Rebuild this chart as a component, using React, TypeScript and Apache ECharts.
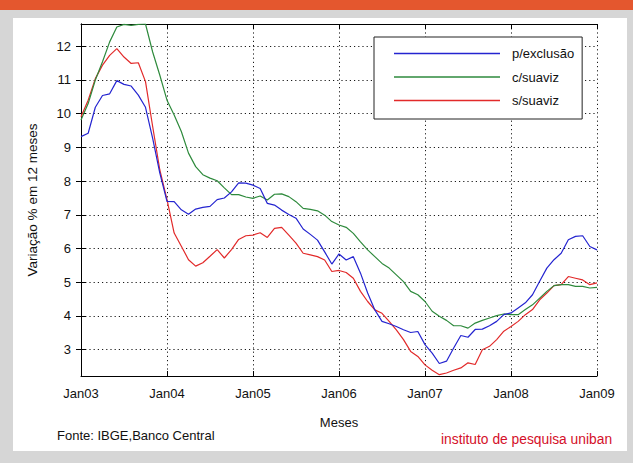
import React, { useEffect, useRef } from "react";
import * as echarts from "echarts";

const yearLabels = ["Jan03", "Jan04", "Jan05", "Jan06", "Jan07", "Jan08", "Jan09"];
const yTicks = [3, 4, 5, 6, 7, 8, 9, 10, 11, 12];
const seriesNames = ["p/exclusão", "c/suaviz", "s/suaviz"];

// monthly values, Jan 2003 .. Jan 2009
const pExclusao = [
  9.32, 9.42, 10.19, 10.54, 10.59, 10.98, 10.87, 10.82, 10.55, 10.19, 9.27, 8.24,
  7.40, 7.39, 7.15, 7.02, 7.17, 7.22, 7.25, 7.45, 7.50, 7.68, 7.95, 7.94,
  7.88, 7.78, 7.34, 7.29, 7.14, 7.01, 6.90, 6.58, 6.42, 6.25, 5.90, 5.54,
  5.84, 5.66, 5.76, 5.27, 4.68, 4.18, 3.84, 3.77, 3.69, 3.59, 3.51, 3.54,
  3.15, 2.90, 2.59, 2.66, 3.05, 3.42, 3.37, 3.60, 3.61, 3.71, 3.84, 4.04,
  4.09, 4.24, 4.39, 4.63, 5.03, 5.42, 5.67, 5.86, 6.26, 6.36, 6.38, 6.06,
  5.96,
];
const cSuaviz = [
  9.81, 10.30, 11.00, 11.54, 12.13, 12.57, 12.65, 12.62, 12.65, 12.66, 11.83, 11.14,
  10.40, 9.96, 9.47, 8.83, 8.43, 8.19, 8.09, 8.01, 7.80, 7.60, 7.60, 7.53,
  7.49, 7.56, 7.44, 7.61, 7.62, 7.54, 7.39, 7.19, 7.16, 7.12, 6.99, 6.80,
  6.70, 6.63, 6.45, 6.20, 5.96, 5.76, 5.56, 5.42, 5.22, 5.02, 4.73, 4.63,
  4.43, 4.14, 3.99, 3.87, 3.71, 3.71, 3.64, 3.79, 3.87, 3.94, 4.01, 4.06,
  4.04, 4.04, 4.19, 4.33, 4.53, 4.73, 4.90, 4.93, 4.93, 4.88, 4.88, 4.83,
  4.85,
];
const sSuaviz = [
  9.91, 10.40, 11.04, 11.44, 11.73, 11.93, 11.68, 11.49, 11.51, 10.95, 9.62, 8.33,
  7.45, 6.46, 6.07, 5.67, 5.48, 5.58, 5.77, 5.97, 5.72, 5.97, 6.27, 6.38,
  6.40, 6.47, 6.33, 6.60, 6.63, 6.40, 6.16, 5.86, 5.81, 5.76, 5.66, 5.32,
  5.35, 5.29, 5.12, 4.73, 4.43, 4.18, 4.08, 3.84, 3.59, 3.30, 2.95, 2.80,
  2.55, 2.39, 2.26, 2.31, 2.39, 2.46, 2.61, 2.56, 3.00, 3.10, 3.30, 3.55,
  3.69, 3.84, 4.04, 4.19, 4.48, 4.68, 4.90, 4.93, 5.17, 5.12, 5.07, 4.93,
  4.98,
];
const seriesColors = ["#2424d0", "#2e8a3c", "#e22a2a"];

const FONT = "'Liberation Sans', Arial, sans-serif";

export default function App() {
  const ref = useRef<HTMLDivElement>(null);
  useEffect(() => {
    document.body.style.margin = "0";
    const chart = echarts.init(ref.current!, null, { renderer: "svg" });
    const toPairs = (arr: number[]) => arr.map((v, i) => [i, v]);
    const yMin = 2.22;
    const yMax = 12.66;
    const dotted = { color: "#1a1a1a", type: [1.2, 3] as any, width: 1 };
    const baseY = {
      type: "value" as const,
      min: yMin,
      max: yMax,
      axisLine: { show: true, lineStyle: { color: "#000", width: 1 } },
      axisTick: { show: true, inside: true, length: 5, customValues: yTicks, lineStyle: { color: "#000" } },
    };
    const baseX = {
      type: "value" as const,
      min: 0,
      max: 72,
      interval: 12,
      axisLine: { show: true, lineStyle: { color: "#000", width: 1 } },
      axisTick: { show: true, inside: true, length: 5, lineStyle: { color: "#000" } },
    };
    chart.setOption({
      animation: false,
      backgroundColor: "#d6d6d6",
      textStyle: { fontFamily: FONT },
      grid: { left: 81, right: 36, top: 24, bottom: 87, containLabel: false },
      graphic: [
        { type: "rect", z: -10, shape: { x: 0, y: 0, width: 633, height: 10 }, style: { fill: "#e4572e" } },
        { type: "rect", z: -10, shape: { x: 13, y: 18, width: 614, height: 433 }, style: { fill: "#ffffff" } },
        {
          type: "text", z: 10, left: 57, top: 429,
          style: { text: "Fonte: IBGE,Banco Central", fontSize: 13, fontFamily: FONT, fill: "#111" },
        },
        {
          type: "text", z: 10, left: 441, top: 432,
          style: { text: "instituto de pesquisa uniban", fontSize: 13.8, fontFamily: FONT, fill: "#d4102a" },
        },
      ],
      legend: {
        orient: "vertical",
        left: 374,
        top: 37,
        data: seriesNames,
        icon: "rect",
        itemWidth: 106,
        itemHeight: 1.3,
        itemGap: 10.5,
        padding: [10, 8, 12, 20],
        backgroundColor: "#fff",
        borderColor: "#222",
        borderWidth: 1,
        borderRadius: 0,
        textStyle: { fontSize: 13, color: "#111", fontFamily: FONT, padding: [0, 0, 0, 7] },
      },
      xAxis: [
        {
          ...baseX,
          position: "bottom",
          name: "Meses",
          nameLocation: "middle",
          nameGap: 40,
          nameTextStyle: { fontSize: 13, color: "#111", fontFamily: FONT },
          axisLabel: {
            show: true, margin: 11, fontSize: 13, color: "#111", fontFamily: FONT,
            formatter: (v: number) => yearLabels[Math.round(v / 12)] ?? "",
          },
          splitLine: { show: true, lineStyle: dotted },
        },
        {
          ...baseX,
          position: "top",
          axisLabel: { show: false },
          splitLine: { show: false },
        },
      ],
      yAxis: [
        {
          ...baseY,
          position: "left",
          name: "Variação % em 12 meses",
          nameLocation: "middle",
          nameGap: 42,
          nameTextStyle: { fontSize: 13.5, color: "#111", fontFamily: FONT },
          axisLabel: { show: true, margin: 10, fontSize: 13, color: "#111", fontFamily: FONT, customValues: yTicks },
          splitLine: { show: true, lineStyle: dotted },
        },
        {
          ...baseY,
          position: "right",
          axisLabel: { show: false },
          splitLine: { show: false },
        },
      ],
      series: [pExclusao, cSuaviz, sSuaviz].map((arr, i) => ({
        name: seriesNames[i],
        type: "line",
        xAxisIndex: 0,
        yAxisIndex: 0,
        data: toPairs(arr),
        symbol: "none",
        lineStyle: { color: seriesColors[i], width: 1.2 },
        itemStyle: { color: seriesColors[i] },
        z: 3 + (2 - i),
      })),
    });
    return () => chart.dispose();
  }, []);
  return <div ref={ref} style={{ width: 633, height: 463 }} />;
}
